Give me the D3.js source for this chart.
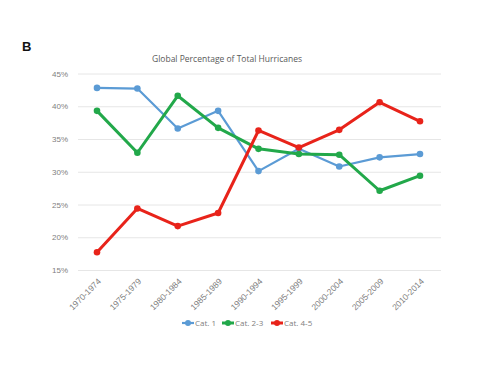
<!DOCTYPE html>
<html><head><meta charset="utf-8">
<script src="https://cdn.jsdelivr.net/npm/d3@7"></script>
<style>body{margin:0;background:#fff;}svg{display:block;font-family:"Open Sans","DejaVu Sans",sans-serif;}</style>
</head><body>
<svg id="c" width="500" height="375"></svg>
<script>
const categories = ["1970-1974","1975-1979","1980-1984","1985-1989","1990-1994","1995-1999","2000-2004","2005-2009","2010-2014"];
const seriesNames = ["Cat. 1","Cat. 2-3","Cat. 4-5"];
const cat1 = [42.8,42.7,36.6,39.3,30.1,33.5,30.8,32.2,32.7];
const cat23 = [39.3,32.9,41.6,36.7,33.5,32.7,32.6,27.1,29.4];
const cat45 = [17.7,24.4,21.7,23.7,36.3,33.7,36.4,40.6,37.7];
const yTicks = [15,20,25,30,35,40,45];
const colors = ["#5b9bd5","#22a84a","#e8231a"];
const widths = [2.2,3,3];

const svg = d3.select("#c");
const x = d3.scalePoint().domain(categories).range([97,420]);
const y = d3.scaleLinear().domain([15,45]).range([270,73.5]);

svg.append("text").attr("x",22).attr("y",51).attr("font-size",13).attr("font-weight","bold")
  .attr("font-family","Arial, Liberation Sans, sans-serif").attr("fill","#111").text("B");
svg.append("text").attr("x",227).attr("y",62).attr("text-anchor","middle").attr("font-size",8.5)
  .attr("fill","#595959").text("Global Percentage of Total Hurricanes");

const yAxis = svg.append("g").attr("transform","translate(78,0)")
  .call(d3.axisLeft(y).tickValues(yTicks).tickFormat(d=>d+"%").tickSize(-363).tickPadding(10));
yAxis.select(".domain").remove();
yAxis.selectAll(".tick line").attr("stroke","#e6e6e6").attr("stroke-width",1);
yAxis.selectAll(".tick text").attr("fill","#808080").attr("font-size",8);

const xAxis = svg.append("g").attr("transform","translate(0,270)")
  .call(d3.axisBottom(x).tickSize(0).tickPadding(0));
xAxis.select(".domain").remove();
xAxis.selectAll(".tick text").attr("fill","#808080").attr("font-size",8.5)
  .attr("text-anchor","end").attr("dy",0)
  .attr("transform","translate(4,12) rotate(-45)");

const data = [cat1,cat23,cat45];
const line = d3.line().x((d,i)=>x(categories[i])).y(d=>y(d));
data.forEach((s,k)=>{
  svg.append("path").datum(s).attr("d",line).attr("fill","none")
    .attr("stroke",colors[k]).attr("stroke-width",widths[k]).attr("stroke-linejoin","round");
  svg.selectAll(null).data(s).enter().append("circle")
    .attr("cx",(d,i)=>x(categories[i])).attr("cy",d=>y(d)).attr("r",3.3).attr("fill",colors[k]);
});

const legX = [182,222,271];
const leg = svg.append("g");
seriesNames.forEach((n,k)=>{
  const g = leg.append("g").attr("transform",`translate(${legX[k]},323)`);
  g.append("line").attr("x1",0).attr("x2",12).attr("stroke",colors[k]).attr("stroke-width",widths[k]);
  g.append("circle").attr("cx",6).attr("r",3).attr("fill",colors[k]);
  g.append("text").attr("x",13).attr("y",3).attr("font-size",8).attr("fill","#808080").text(n);
});
</script>
</body></html>
